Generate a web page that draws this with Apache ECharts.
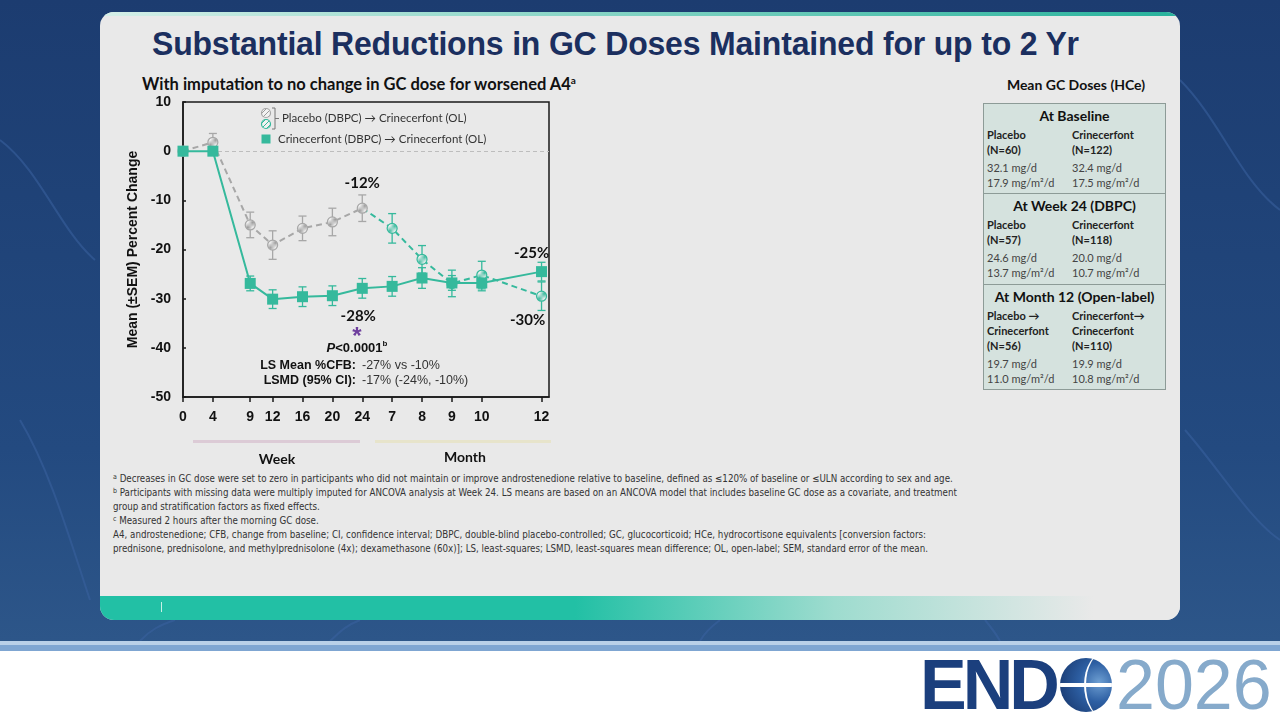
<!DOCTYPE html>
<html>
<head>
<meta charset="utf-8">
<script src="https://cdn.jsdelivr.net/npm/echarts@6/dist/echarts.min.js"></script>
<style>
  html, body { margin: 0; padding: 0; }
  body { width: 1280px; height: 720px; overflow: hidden; position: relative; background: #fff; font-family: Lato, "Open Sans", sans-serif; }
  #navy { position: absolute; left: 0; top: 0; width: 1280px; height: 641px; background: linear-gradient(180deg, #1c3c70 0%, #234a80 70%, #2d5689 100%); }
  #stripe1 { position: absolute; left: 0; top: 641px; width: 1280px; height: 4px; background: #b9d0e8; }
  #stripe2 { position: absolute; left: 0; top: 645px; width: 1280px; height: 6px; background: #7fa6d2; }
  #card { position: absolute; left: 100px; top: 12px; width: 1080px; height: 608px; border-radius: 14px; background: #e9e9e9; overflow: hidden; }
  #card .topline { position: absolute; left: 0; top: 0; width: 100%; height: 4px; background: linear-gradient(90deg, #d5efe8 0%, #7fd2c2 50%, #27b29c 100%); }
  #card .band { position: absolute; left: 0; bottom: 0; width: 100%; height: 24px; background: linear-gradient(90deg, #22c0a5 0%, #22c0a5 44%, #9edccf 68%, #e9e9e9 92%); }
  #card .tick { position: absolute; left: 61px; bottom: 8px; width: 1px; height: 10px; background: #c8f0e6; }
  #title { position: absolute; left: 152px; top: 25px; font-family: "Liberation Sans", Arial, sans-serif; font-weight: bold; font-size: 33px; color: #1b2f5f; white-space: nowrap; transform-origin: left top; transform: scaleX(0.97); letter-spacing: -0.2px; }
  #subtitle { position: absolute; left: 142px; top: 74px; font-weight: bold; font-size: 16.5px; color: #111; white-space: nowrap; }
  #subtitle sup { font-size: 10px; line-height: 0; }
  #tabtitle { position: absolute; left: 983px; width: 186px; top: 76px; text-align: center; font-weight: bold; font-size: 14px; color: #111; }
  #table { position: absolute; left: 983px; top: 103px; width: 183px; height: 287px; background: #d5e2de; border: 1px solid #8d9b97; box-sizing: border-box; }
  .sec { position: absolute; left: 0; width: 100%; }
  .sec .hd { text-align: center; font-weight: bold; font-size: 14px; color: #111; }
  .sec .c { position: absolute; font-size: 11px; line-height: 15px; color: #222; white-space: nowrap; }
  .sec .c b { color: #222; }
  .sec .c .v { color: #444; }
  .div { position: absolute; left: 0; width: 100%; height: 1px; background: #8d9b97; }
  #notes { position: absolute; left: 113px; top: 472px; font-family: "Liberation Sans Narrow", "DejaVu Sans Condensed", sans-serif; font-size: 9.7px; line-height: 14px; color: #333; white-space: nowrap; }
  #notes div { height: 14px; }
  #notes sup { font-size: 7px; line-height: 0; vertical-align: 3px; }
  #logo { position: absolute; left: 920px; top: 652px; height: 64px; white-space: nowrap; }
  #logo .end { position: absolute; left: 0; top: -7px; font-family: "Liberation Sans", Arial, sans-serif; font-weight: bold; font-size: 70px; color: #1b3f7d; letter-spacing: -4px; }
  #logo .globe { position: absolute; left: 140px; top: 6px; width: 52px; height: 54px; border-radius: 50%; background: radial-gradient(circle at 75% 45%, #6e9fd2 0%, #2d5fa3 40%, #143064 100%); overflow: hidden; }
  #logo .globe i { position: absolute; left: 0; top: 25px; width: 100%; height: 4px; background: #fff; }
  #logo .globe b { position: absolute; left: 24px; top: -6px; width: 40px; height: 66px; border-radius: 50%; border-left: 2px solid #fff; }
  #logo .yr { position: absolute; left: 196px; top: -7px; font-family: "Liberation Sans", sans-serif; font-weight: normal; font-size: 70px; color: #86aacb; letter-spacing: 0px; }
  #chart { position: absolute; left: 0; top: 0; width: 1280px; height: 720px; }
</style>
</head>
<body>
<div id="navy">
  <svg width="1280" height="641" style="position:absolute;left:0;top:0">
    <g fill="none" stroke="#3a62a0" stroke-width="2" opacity="0.55">
      <path d="M0,140 C40,170 60,230 95,260"/>
      <path d="M20,420 C50,470 70,540 90,600"/>
      <path d="M1180,80 C1220,120 1240,180 1280,210"/>
      <path d="M1185,430 C1220,470 1250,520 1280,540"/>
      <path d="M140,641 C150,630 160,625 175,620"/>
      <path d="M330,641 C340,632 345,626 360,620"/>
      <path d="M700,641 C705,632 712,626 720,620"/>
      <path d="M1000,641 C995,632 990,626 985,620"/>
    </g>
  </svg>
</div>
<div id="stripe1"></div>
<div id="stripe2"></div>
<div id="card"><div class="topline"></div><div class="band"></div><div class="tick"></div></div>

<div id="title">Substantial Reductions in GC Doses Maintained for up to 2 Yr</div>
<div id="subtitle">With imputation to no change in GC dose for worsened A4<sup>a</sup></div>
<div id="tabtitle">Mean GC Doses (HCe)</div>
<div id="table"></div>

<div id="notes">
  <div><sup>a</sup> Decreases in GC dose were set to zero in participants who did not maintain or improve androstenedione relative to baseline, defined as ≤120% of baseline or ≤ULN according to sex and age.</div>
  <div><sup>b</sup> Participants with missing data were multiply imputed for ANCOVA analysis at Week 24. LS means are based on an ANCOVA model that includes baseline GC dose as a covariate, and treatment</div>
  <div>group and stratification factors as fixed effects.</div>
  <div><sup>c</sup> Measured 2 hours after the morning GC dose.</div>
  <div>A4, androstenedione; CFB, change from baseline; CI, confidence interval; DBPC, double-blind placebo-controlled; GC, glucocorticoid; HCe, hydrocortisone equivalents [conversion factors:</div>
  <div>prednisone, prednisolone, and methylprednisolone (4x); dexamethasone (60x)]; LS, least-squares; LSMD, least-squares mean difference; OL, open-label; SEM, standard error of the mean.</div>
</div>

<div id="logo">
  <div class="end">END</div>
  <div class="globe"><i></i><b></b></div>
  <div class="yr">2026</div>
</div>

<div id="chart"></div>

<script>
// x positions: weeks as is, months mapped on 4 units per month after week 24
var tickPos = [0, 4, 9, 12, 16, 20, 24, 28, 32, 36, 40, 48];
var tickLabels = ['0', '4', '9', '12', '16', '20', '24', '7', '8', '9', '10', '12'];

// Crinecerfont (DBPC) -> Crinecerfont (OL)
var crinMean = [0, 0, -26.9, -30.1, -29.6, -29.4, -27.9, -27.5, -25.8, -26.8, -26.8, -24.5];
var crinSem = [0, 0, 1.5, 1.9, 2.0, 2.0, 2.0, 2.0, 2.1, 1.5, 1.6, 1.9];

// Placebo (DBPC) -> Crinecerfont (OL)
var pboMean = [0, 1.8, -15.0, -19.1, -15.7, -14.4, -11.6, -15.7, -22.0, -26.9, -25.2, -29.5];
var pboSem = [0, 1.8, 2.6, 2.9, 2.5, 2.8, 2.7, 3.0, 2.8, 2.7, 2.8, 2.9];

// week 24 is the last double-blind point
var dbpcEnd = 6;

// point labels
var pointLabels = {
  pbo24: '-12%', crin24: '-28%', crin12: '-25%', pbo12: '-30%'
};

// table
var tableSecs = [
  { head: 'At Baseline', top: 0, rows: [['Placebo', '(N=60)'], ['Crinecerfont', '(N=122)']], vals: [['32.1 mg/d', '17.9 mg/m²/d'], ['32.4 mg/d', '17.5 mg/m²/d']] },
  { head: 'At Week 24 (DBPC)', top: 90, rows: [['Placebo', '(N=57)'], ['Crinecerfont', '(N=118)']], vals: [['24.6 mg/d', '13.7 mg/m²/d'], ['20.0 mg/d', '10.7 mg/m²/d']] },
  { head: 'At Month 12 (Open-label)', top: 181, rows: [['Placebo →', 'Crinecerfont', '(N=56)'], ['Crinecerfont→', 'Crinecerfont', '(N=110)']], vals: [['19.7 mg/d', '11.0 mg/m²/d'], ['19.9 mg/d', '10.8 mg/m²/d']] }
];

var TEAL = '#35b99c';
var GRAY = '#a7a7a7';
var ARIAL = '"Liberation Sans", Arial, sans-serif';
var CAL = 'Lato, "Open Sans", sans-serif';

// 表格
(function () {
  var t = document.getElementById('table');
  var html = '';
  tableSecs.forEach(function (s, k) {
    if (k > 0) html += '<div class="div" style="top:' + (s.top - 1) + 'px"></div>';
    html += '<div class="sec" style="top:' + (s.top + 3) + 'px"><div class="hd">' + s.head + '</div>';
    [3, 88].forEach(function (lx, c) {
      var inner = '';
      s.rows[c].forEach(function (r) { inner += '<b>' + r + '</b><br>'; });
      inner += '<div style="height:3px"></div>';
      s.vals[c].forEach(function (v) { inner += '<span class="v">' + v + '</span><br>'; });
      html += '<div class="c" style="left:' + lx + 'px;top:20px">' + inner + '</div>';
    });
    html += '</div>';
  });
  t.innerHTML = html;
})();

function hatch(stroke) {
  var c = document.createElement('canvas');
  c.width = 5; c.height = 5;
  var g = c.getContext('2d');
  g.fillStyle = '#f2f2f2';
  g.fillRect(0, 0, 5, 5);
  g.strokeStyle = stroke;
  g.lineWidth = 1;
  g.beginPath();
  g.moveTo(0, 5); g.lineTo(5, 0);
  g.moveTo(-1, 1); g.lineTo(1, -1);
  g.moveTo(4, 6); g.lineTo(6, 4);
  g.stroke();
  return { image: c, repeat: 'repeat' };
}
var hatchGray = hatch('#9a9a9a');
var hatchTeal = hatch(TEAL);

function pts(mean, from, to) {
  var out = [];
  for (var i = from; i <= to; i++) out.push([tickPos[i], mean[i]]);
  return out;
}

// 误差线
function errSeries(mean, sem, from, to, color, z) {
  var data = [];
  for (var i = from; i <= to; i++) {
    if (sem[i] > 0) data.push([tickPos[i], mean[i] - sem[i], mean[i] + sem[i]]);
  }
  return {
    type: 'custom',
    silent: true,
    z: z,
    encode: { x: 0, y: [1, 2] },
    data: data,
    renderItem: function (params, api) {
      var lo = api.coord([api.value(0), api.value(1)]);
      var hi = api.coord([api.value(0), api.value(2)]);
      var w = 4;
      var st = { stroke: color, lineWidth: 1.3 };
      return {
        type: 'group',
        children: [
          { type: 'line', shape: { x1: lo[0], y1: lo[1], x2: hi[0], y2: hi[1] }, style: st },
          { type: 'line', shape: { x1: lo[0] - w, y1: lo[1], x2: lo[0] + w, y2: lo[1] }, style: st },
          { type: 'line', shape: { x1: hi[0] - w, y1: hi[1], x2: hi[0] + w, y2: hi[1] }, style: st }
        ]
      };
    }
  };
}

var lblStyle = { fontFamily: CAL, fontWeight: 'bold', fontSize: 15, color: '#111' };

var pboWeek = pts(pboMean, 0, dbpcEnd);
pboWeek[dbpcEnd] = { value: pboWeek[dbpcEnd], label: Object.assign({ show: true, position: 'top', distance: 12, formatter: pointLabels.pbo24 }, lblStyle) };

var pboMonth = pts(pboMean, dbpcEnd, tickPos.length - 1);
pboMonth[pboMonth.length - 1] = { value: pboMonth[pboMonth.length - 1], label: Object.assign({ show: true, position: 'bottom', distance: 11, offset: [-14, 0], formatter: pointLabels.pbo12 }, lblStyle) };

var crinData = pts(crinMean, 0, tickPos.length - 1);
crinData[dbpcEnd] = { value: crinData[dbpcEnd], label: Object.assign({ show: true, position: 'bottom', distance: 15, offset: [-4, 0], formatter: pointLabels.crin24 }, lblStyle) };
crinData[crinData.length - 1] = { value: crinData[crinData.length - 1], label: Object.assign({ show: true, position: 'top', distance: 5, offset: [-10, 0], formatter: pointLabels.crin12 }, lblStyle) };

var chart = echarts.init(document.getElementById('chart'), null, { renderer: 'canvas' });

var option = {
  backgroundColor: 'transparent',
  animation: false,
  grid: {
    left: 183, right: 731, top: 102, bottom: 323,
    show: true, borderColor: '#1a1a1a', borderWidth: 1.5, backgroundColor: 'transparent'
  },
  xAxis: {
    type: 'value',
    min: 0, max: 49,
    axisLine: { show: true, onZero: false, lineStyle: { color: '#1a1a1a', width: 1.5 } },
    axisTick: { show: true, length: 5, customValues: tickPos, lineStyle: { color: '#1a1a1a', width: 1.5 } },
    axisLabel: {
      customValues: tickPos,
      margin: 13,
      fontFamily: ARIAL, fontWeight: 'bold', fontSize: 14, color: '#111',
      formatter: function (v) {
        var k = tickPos.indexOf(v);
        return k >= 0 ? tickLabels[k] : '';
      }
    },
    splitLine: { show: false }
  },
  yAxis: {
    type: 'value',
    min: -50, max: 10, interval: 10,
    name: 'Mean (±SEM) Percent Change',
    nameLocation: 'middle',
    nameGap: 43,
    nameRotate: 90,
    nameTextStyle: { fontFamily: ARIAL, fontWeight: 'bold', fontSize: 14, color: '#111' },
    axisLine: { show: true, lineStyle: { color: '#1a1a1a', width: 1.5 } },
    axisTick: { show: true, inside: true, length: 3, lineStyle: { color: '#1a1a1a', width: 1.5 } },
    axisLabel: { margin: 12, fontFamily: ARIAL, fontWeight: 'bold', fontSize: 14, color: '#111' },
    splitLine: { show: false }
  },
  series: [
    errSeries(pboMean, pboSem, 0, dbpcEnd, GRAY, 2),
    errSeries(pboMean, pboSem, dbpcEnd + 1, tickPos.length - 1, TEAL, 2),
    errSeries(crinMean, crinSem, 0, tickPos.length - 1, TEAL, 2),
    {
      name: 'Placebo (DBPC) → Crinecerfont (OL), month',
      type: 'line',
      z: 3,
      data: pboMonth,
      symbol: function (v, p) { return p.dataIndex === 0 ? 'none' : 'circle'; },
      symbolSize: 10,
      lineStyle: { color: TEAL, width: 2, type: [6, 4] },
      itemStyle: { color: hatchTeal, borderColor: TEAL, borderWidth: 1.2 },
      label: { show: false }
    },
    {
      name: 'Placebo (DBPC) → Crinecerfont (OL)',
      type: 'line',
      z: 4,
      data: pboWeek,
      symbol: 'circle',
      symbolSize: 10,
      lineStyle: { color: GRAY, width: 2, type: [6, 4] },
      itemStyle: { color: hatchGray, borderColor: GRAY, borderWidth: 1.2 },
      label: { show: false }
    },
    {
      name: 'Crinecerfont (DBPC) → Crinecerfont (OL)',
      type: 'line',
      z: 5,
      data: crinData,
      symbol: 'rect',
      symbolSize: 11,
      lineStyle: { color: TEAL, width: 2 },
      itemStyle: { color: TEAL },
      label: { show: false },
      markLine: {
        silent: true,
        symbol: 'none',
        label: { show: false },
        lineStyle: { color: '#bdbdbd', width: 1, type: [4, 3] },
        data: [{ yAxis: 0 }]
      }
    }
  ],
  graphic: [
    // legend
    { type: 'circle', shape: { cx: 266, cy: 113, r: 4.5 }, style: { fill: hatchGray, stroke: GRAY, lineWidth: 1.2 }, z: 10 },
    { type: 'circle', shape: { cx: 266, cy: 124, r: 4.5 }, style: { fill: hatchTeal, stroke: TEAL, lineWidth: 1.2 }, z: 10 },
    { type: 'polyline', shape: { points: [[272, 108], [275, 108], [275, 129], [272, 129]] }, style: { stroke: '#777', lineWidth: 1, fill: null }, z: 10 },
    { type: 'line', shape: { x1: 275, y1: 118.5, x2: 279, y2: 118.5 }, style: { stroke: '#777', lineWidth: 1 }, z: 10 },
    { type: 'text', x: 282, y: 118, style: { text: 'Placebo (DBPC) → Crinecerfont (OL)', font: '11.5px ' + CAL, fill: '#333', textVerticalAlign: 'middle' }, z: 10 },
    { type: 'rect', shape: { x: 261.5, y: 134.5, width: 9, height: 9 }, style: { fill: TEAL }, z: 10 },
    { type: 'text', x: 278, y: 139, style: { text: 'Crinecerfont (DBPC) → Crinecerfont (OL)', font: '11.5px ' + CAL, fill: '#333', textVerticalAlign: 'middle' }, z: 10 },
    // stats
    { type: 'text', x: 357, y: 337, style: { text: '*', font: 'bold 24px ' + ARIAL, fill: '#6f3f9e', textAlign: 'center', textVerticalAlign: 'middle' }, z: 10 },
    {
      type: 'text', x: 357, y: 348,
      style: {
        text: '{i|P}{n|<0.0001}{s|b}', textAlign: 'center', textVerticalAlign: 'middle',
        rich: {
          i: { fontFamily: ARIAL, fontStyle: 'italic', fontWeight: 'bold', fontSize: 13, fill: '#111' },
          n: { fontFamily: ARIAL, fontWeight: 'bold', fontSize: 13, fill: '#111' },
          s: { fontFamily: ARIAL, fontWeight: 'bold', fontSize: 8, fill: '#111', verticalAlign: 'top', padding: [0, 0, 8, 0] }
        }
      }, z: 10
    },
    { type: 'text', x: 356, y: 366, style: { text: 'LS Mean %CFB:', font: 'bold 12.5px ' + ARIAL, fill: '#111', textAlign: 'right', textVerticalAlign: 'middle' }, z: 10 },
    { type: 'text', x: 362, y: 366, style: { text: '-27% vs -10%', font: '12.5px ' + ARIAL, fill: '#333', textVerticalAlign: 'middle' }, z: 10 },
    { type: 'text', x: 356, y: 381, style: { text: 'LSMD (95% CI):', font: 'bold 12.5px ' + ARIAL, fill: '#111', textAlign: 'right', textVerticalAlign: 'middle' }, z: 10 },
    { type: 'text', x: 362, y: 381, style: { text: '-17% (-24%, -10%)', font: '12.5px ' + ARIAL, fill: '#333', textVerticalAlign: 'middle' }, z: 10 },
    // week / month brackets
    { type: 'line', shape: { x1: 193, y1: 441.5, x2: 360, y2: 441.5 }, style: { stroke: '#dccbd6', lineWidth: 3 }, z: 1 },
    { type: 'line', shape: { x1: 375, y1: 441.5, x2: 551, y2: 441.5 }, style: { stroke: '#e7e4cb', lineWidth: 3 }, z: 1 },
    { type: 'text', x: 277, y: 459, style: { text: 'Week', font: 'bold 14px ' + CAL, fill: '#111', textAlign: 'center', textVerticalAlign: 'middle' }, z: 10 },
    { type: 'text', x: 465, y: 457, style: { text: 'Month', font: 'bold 14px ' + CAL, fill: '#111', textAlign: 'center', textVerticalAlign: 'middle' }, z: 10 }
  ]
};

chart.setOption(option);
</script>
</body>
</html>
